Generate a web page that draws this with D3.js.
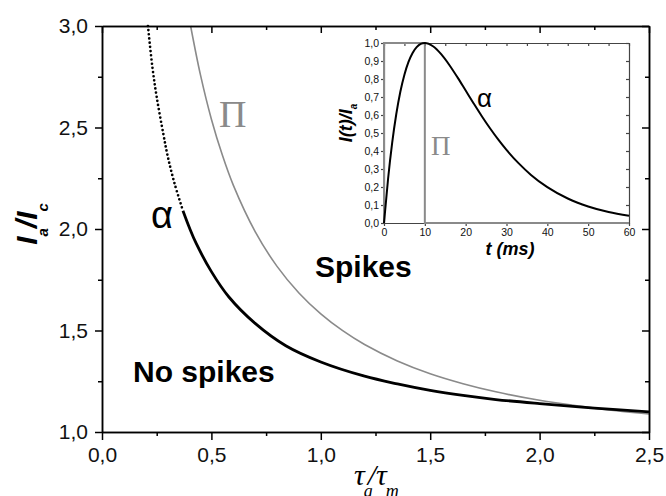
<!DOCTYPE html>
<html>
<head>
<meta charset="utf-8">
<script src="https://cdn.jsdelivr.net/npm/d3@7"></script>
<style>
  body { margin: 0; background: #fff; }
</style>
</head>
<body>
<div class="d3Chart"></div>
<script>
// threshold current for the alpha-shaped input (black dots)
var alphaTau = [0.21, 0.23, 0.25, 0.28, 0.30, 0.33, 0.37, 0.40, 0.43, 0.50, 0.58, 0.70, 0.84, 1.0, 1.2, 1.35, 1.5, 1.65, 1.8, 2.0, 2.25, 2.5];
var alphaCurrent = [3.0, 2.80, 2.65, 2.47, 2.36, 2.23, 2.09, 2.005, 1.93, 1.79, 1.665, 1.535, 1.425, 1.345, 1.275, 1.237, 1.205, 1.18, 1.16, 1.14, 1.118, 1.099];
// threshold current for the square pulse (grey line)
var pulseTau = [0.405, 0.45, 0.5, 0.55, 0.6, 0.7, 0.8, 0.9, 1.0, 1.1, 1.2, 1.35, 1.5, 1.65, 1.8, 2.0, 2.2, 2.35, 2.5];
var pulseCurrent = [3.0, 2.759, 2.541, 2.364, 2.216, 1.987, 1.816, 1.685, 1.582, 1.499, 1.431, 1.35, 1.287, 1.238, 1.198, 1.156, 1.125, 1.105, 1.089];
var xTicks = [0, 0.5, 1, 1.5, 2, 2.5];
var xMinor = [0.25, 0.75, 1.25, 1.75, 2.25];
var yTicks = [1, 1.5, 2, 2.5, 3];
var yMinor = [1.25, 1.75, 2.25, 2.75];

// inset: input current shapes
var insetT = [0, 1, 2, 3, 4, 5, 6, 7, 8, 9, 10, 12, 14, 16, 18, 20, 22, 24, 26, 28, 30, 33, 36, 40, 45, 50, 55, 60];
var insetAlpha = [0, 0.246, 0.445, 0.604, 0.729, 0.824, 0.895, 0.945, 0.977, 0.995, 1, 0.982, 0.938, 0.878, 0.809, 0.736, 0.663, 0.592, 0.525, 0.463, 0.406, 0.331, 0.267, 0.199, 0.136, 0.092, 0.061, 0.04];
var squareT = [0, 0, 10, 10, 60];
var squareI = [0, 1, 1, 0, 0];
var insetXTicks = [0, 10, 20, 30, 40, 50, 60];
var insetXMinor = [5, 15, 25, 35, 45, 55];
var insetYTicks = [0, 0.1, 0.2, 0.3, 0.4, 0.5, 0.6, 0.7, 0.8, 0.9, 1];

var width = 666;
var height = 496;
var font = '"Liberation Sans", Arial, sans-serif';
var serif = '"Liberation Serif", "Times New Roman", serif';

var svg = d3
  .select(".d3Chart")
  .append("svg")
  .attr("width", width)
  .attr("height", height)
  .style("display", "block")
  .style("background-color", "#fff");

var x = d3.scaleLinear().domain([0, 2.5]).range([102, 649]);
var y = d3.scaleLinear().domain([1, 3]).range([432, 26]);

// comma decimal labels
var fmt = function (d) {
  return d3.format(".1f")(d).replace(".", ",");
};

function styleAxis(g, size, color, width) {
  g.attr("font-size", size).attr("font-family", font);
  g.select(".domain").attr("stroke", color).attr("stroke-width", width);
  g.selectAll(".tick line").attr("stroke", color).attr("stroke-width", width);
  g.selectAll(".tick text").attr("fill", "#111");
}

function addAxis(parent, axis, transform, size, color, w) {
  parent
    .append("g")
    .attr("transform", transform)
    .call(axis)
    .call(function (g) {
      styleAxis(g, size, color, w);
    });
}

// curves, clipped to the plot area
svg
  .append("clipPath")
  .attr("id", "plotClip")
  .append("rect")
  .attr("x", x(0))
  .attr("y", y(3) - 2)
  .attr("width", x(2.5) - x(0))
  .attr("height", y(1) - y(3) + 2);

var curves = svg.append("g").attr("clip-path", "url(#plotClip)");

var line = d3
  .line()
  .x((d) => x(d[0]))
  .y((d) => y(d[1]))
  .curve(d3.curveCatmullRom.alpha(0.5));

var pulsePts = pulseTau.map((t, i) => [t, pulseCurrent[i]]);
var alphaPts = alphaTau.map((t, i) => [t, alphaCurrent[i]]);

curves
  .append("path")
  .attr("d", line(pulsePts))
  .attr("fill", "none")
  .attr("stroke", "#8a8a8a")
  .attr("stroke-width", 1.6);

// upper part of alpha curve shows as separate dots
curves
  .append("path")
  .attr("d", line(alphaPts.filter((d) => d[1] >= 2.09)))
  .attr("fill", "none")
  .attr("stroke", "#000")
  .attr("stroke-width", 2.7)
  .attr("stroke-linecap", "round")
  .attr("stroke-dasharray", "0 4.2");

curves
  .append("path")
  .attr("d", line(alphaPts.filter((d) => d[1] <= 2.09)))
  .attr("fill", "none")
  .attr("stroke", "#000")
  .attr("stroke-width", 2.8);

// main axes
addAxis(svg, d3.axisBottom(x).tickValues(xMinor).tickSize(4).tickSizeOuter(0).tickFormat(""), `translate(0,${y(1)})`, 21, "#000", 1.5);
addAxis(svg, d3.axisBottom(x).tickValues(xTicks).tickSize(8).tickSizeOuter(0).tickPadding(7).tickFormat(fmt), `translate(0,${y(1)})`, 21, "#000", 1.5);
addAxis(svg, d3.axisTop(x).tickValues(xMinor).tickSize(-4).tickSizeOuter(0).tickFormat(""), `translate(0,${y(3)})`, 21, "#000", 1.5);
addAxis(svg, d3.axisTop(x).tickValues(xTicks).tickSize(-7).tickSizeOuter(0).tickFormat(""), `translate(0,${y(3)})`, 21, "#000", 1.5);
addAxis(svg, d3.axisLeft(y).tickValues(yMinor).tickSize(4).tickSizeOuter(0).tickFormat(""), `translate(${x(0)},0)`, 21, "#000", 1.5);
addAxis(svg, d3.axisLeft(y).tickValues(yTicks).tickSize(7).tickSizeOuter(0).tickPadding(7).tickFormat(fmt), `translate(${x(0)},0)`, 21, "#000", 1.5);
addAxis(svg, d3.axisRight(y).tickValues(yMinor).tickSize(-4).tickSizeOuter(0).tickFormat(""), `translate(${x(2.5)},0)`, 21, "#000", 1.5);
addAxis(svg, d3.axisRight(y).tickValues(yTicks).tickSize(-7).tickSizeOuter(0).tickFormat(""), `translate(${x(2.5)},0)`, 21, "#000", 1.5);

// axis titles
var yTitle = svg
  .append("text")
  .attr("transform", "translate(37,224) rotate(-90)")
  .attr("text-anchor", "middle")
  .attr("font-family", font)
  .attr("font-weight", "bold")
  .attr("font-style", "italic")
  .attr("font-size", 30);
yTitle.append("tspan").text("I");
yTitle.append("tspan").attr("font-size", 15).attr("dy", 11).text("a");
yTitle.append("tspan").attr("dy", -11).text("/I");
yTitle.append("tspan").attr("font-size", 15).attr("dy", 11).text("c");

var xTitle = svg
  .append("text")
  .attr("x", 354)
  .attr("y", 485)
  .attr("font-family", serif)
  .attr("font-style", "italic")
  .attr("font-size", 30);
xTitle.append("tspan").text("τ");
xTitle.append("tspan").attr("font-size", 18).attr("dy", 12).attr("dx", -1).text("a");
xTitle.append("tspan").attr("dy", -12).attr("dx", -5).text("/τ");
xTitle.append("tspan").attr("font-size", 18).attr("dy", 12).attr("dx", -1).text("m");

// curve and region labels
svg
  .append("text")
  .attr("x", 219)
  .attr("y", 127)
  .attr("font-family", serif)
  .attr("font-size", 38)
  .attr("fill", "#8a8a8a")
  .text("Π");

svg
  .append("text")
  .attr("x", 151)
  .attr("y", 228)
  .attr("font-family", font)
  .attr("font-size", 38)
  .attr("fill", "#000")
  .text("α");

svg
  .append("text")
  .attr("x", 315)
  .attr("y", 277)
  .attr("font-family", font)
  .attr("font-weight", "bold")
  .attr("font-size", 30)
  .text("Spikes");

svg
  .append("text")
  .attr("x", 133)
  .attr("y", 382)
  .attr("font-family", font)
  .attr("font-weight", "bold")
  .attr("font-size", 30)
  .text("No spikes");

// inset
var xi = d3.scaleLinear().domain([0, 60]).range([384, 629]);
var yi = d3.scaleLinear().domain([0, 1]).range([223, 43]);
var inset = svg.append("g");

inset
  .append("rect")
  .attr("x", xi(0))
  .attr("y", yi(1))
  .attr("width", xi(60) - xi(0))
  .attr("height", yi(0) - yi(1))
  .attr("fill", "#fff");

var insetLine = d3
  .line()
  .x((d) => xi(d[0]))
  .y((d) => yi(d[1]));

addAxis(inset, d3.axisBottom(xi).tickValues(insetXTicks).tickSize(3).tickSizeOuter(0).tickPadding(3).tickFormat(d3.format("d")), `translate(0,${yi(0)})`, 10.5, "#444", 1.2);
addAxis(inset, d3.axisTop(xi).tickValues(insetXMinor.concat(insetXTicks)).tickSize(-3).tickSizeOuter(0).tickFormat(""), `translate(0,${yi(1)})`, 10.5, "#444", 1.2);
addAxis(inset, d3.axisLeft(yi).tickValues(insetYTicks).tickSize(3).tickSizeOuter(0).tickPadding(2).tickFormat(fmt), `translate(${xi(0)},0)`, 10.5, "#444", 1.2);
addAxis(inset, d3.axisRight(yi).tickValues(insetYTicks).tickSize(-3).tickSizeOuter(0).tickFormat(""), `translate(${xi(60)},0)`, 10.5, "#444", 1.2);

inset
  .append("path")
  .attr("d", insetLine(squareT.map((t, i) => [t, squareI[i]])))
  .attr("fill", "none")
  .attr("stroke", "#8a8a8a")
  .attr("stroke-width", 2);

inset
  .append("path")
  .attr("d", insetLine.curve(d3.curveMonotoneX)(insetT.map((t, i) => [t, insetAlpha[i]])))
  .attr("fill", "none")
  .attr("stroke", "#000")
  .attr("stroke-width", 2);

inset
  .append("text")
  .attr("x", 477)
  .attr("y", 107)
  .attr("font-family", font)
  .attr("font-size", 26)
  .text("α");

inset
  .append("text")
  .attr("x", 431)
  .attr("y", 155)
  .attr("font-family", serif)
  .attr("font-size", 27)
  .attr("fill", "#8a8a8a")
  .text("Π");

inset
  .append("text")
  .attr("x", 510)
  .attr("y", 255)
  .attr("text-anchor", "middle")
  .attr("font-family", font)
  .attr("font-weight", "bold")
  .attr("font-style", "italic")
  .attr("font-size", 18)
  .text("t (ms)");

var insetYTitle = inset
  .append("text")
  .attr("transform", "translate(352,123) rotate(-90)")
  .attr("text-anchor", "middle")
  .attr("font-family", font)
  .attr("font-weight", "bold")
  .attr("font-style", "italic")
  .attr("font-size", 18);
insetYTitle.append("tspan").text("I(t)/I");
insetYTitle.append("tspan").attr("font-size", 10).attr("dy", 5).text("a");
</script>
</body>
</html>
